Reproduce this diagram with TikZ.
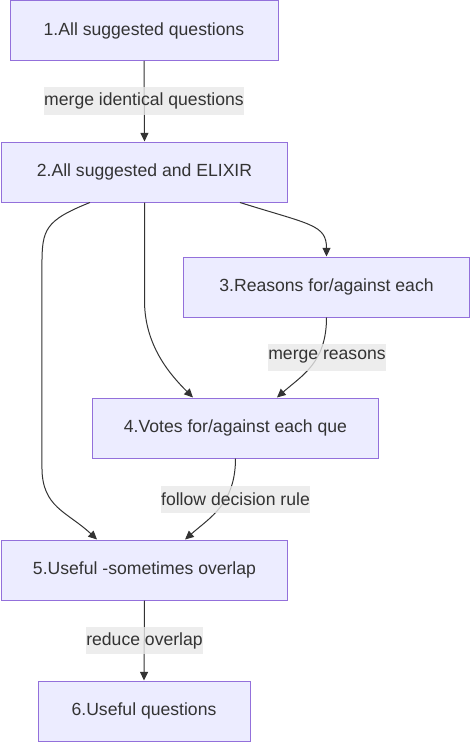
\documentclass[tikz,border=0pt]{standalone}
\usepackage{fontspec}
\setmainfont{Liberation Sans}
\usetikzlibrary{arrows.meta}
\definecolor{boxfill}{HTML}{ECECFF}
\definecolor{boxline}{HTML}{9370DB}
\definecolor{ink}{HTML}{333333}
\definecolor{tagbg}{HTML}{E8E8E8}
\begin{document}
\begin{tikzpicture}[x=0.75pt, y=-0.75pt, font=\fontsize{13.2}{15}\selectfont, text=ink,
  stage/.style={draw=boxline, fill=boxfill, line width=0.75pt, minimum height=45pt, inner sep=0pt},
  flow/.style={draw=ink, line width=0.75pt, -{Triangle[length=6.5pt,width=6pt]}},
  tag/.style={fill=tagbg, fill opacity=0.8, text opacity=1, inner xsep=0pt, inner ysep=0pt, minimum height=20.25pt}]
  \useasboundingbox (0,0) rectangle (471,742);
  % stages
  \node[stage, minimum width=201pt] (q1) at (144,30.5) {1.All suggested questions};
  \node[stage, minimum width=215pt] (q2) at (144.5,172) {2.All suggested and ELIXIR};
  \node[stage, minimum width=215pt] (q3) at (326.5,287) {3.Reasons for/against each};
  \node[stage, minimum width=215pt] (q4) at (235.5,428) {4.Votes for/against each que};
  \node[stage, minimum width=215pt] (q5) at (144.5,570) {5.Useful -sometimes overlap};
  \node[stage, minimum width=159pt] (q6) at (144,711) {6.Useful questions};
  % connectors
  \draw[flow] (q1.south) -- (q2.north);
  \draw[flow] ([xshift=71.6pt]q2.south) .. controls +(70,22) and +(0,-32) .. (q3.north);
  \draw[flow] (q2.south) -- ++(0,98) .. controls +(0,45) and +(-23,-23) .. ([xshift=-31.9pt]q4.north);
  \draw[flow] ([xshift=-40.9pt]q2.south) .. controls +(-45,18) and +(0,-35) .. ++(-48,62)
    -- ++(0,203) .. controls +(0,40) and +(-30,-28) .. ([xshift=-35.6pt]q5.north);
  \draw[flow] (q3.south) .. controls +(0,45) and +(25,-22) .. ([xshift=31.1pt]q4.north);
  \draw[flow] (q4.south) .. controls +(0,45) and +(25,-22) .. ([xshift=30.4pt]q5.north);
  \draw[flow] (q5.south) -- (q6.north);
  % labels
  \node[tag] (m12) at (144,101) {merge identical questions};
  \node[tag] (m34) at (327,357) {merge reasons};
  \node[tag] (m45) at (235.5,499) {follow decision rule};
  \node[tag] (m56) at (144.5,640.5) {reduce overlap};
\end{tikzpicture}
\end{document}
